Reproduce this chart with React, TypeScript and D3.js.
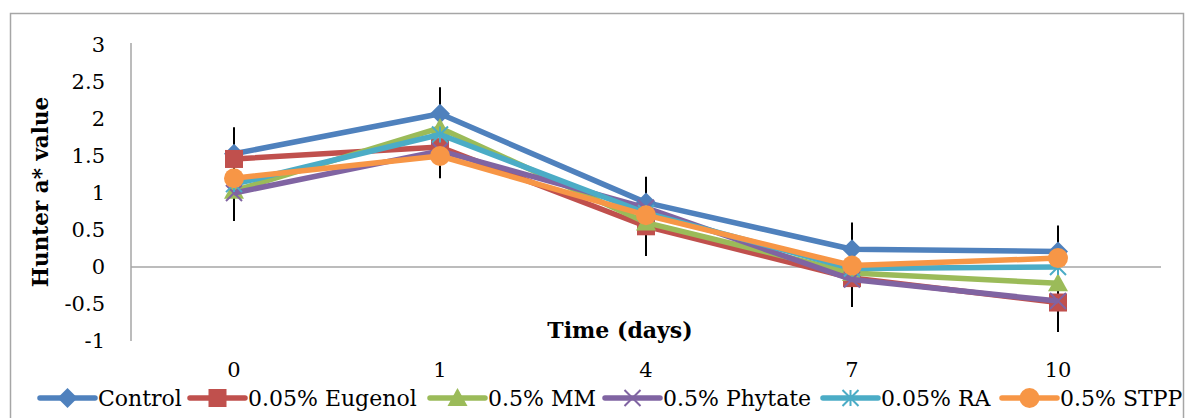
import React, { useRef, useEffect } from 'react';
import * as d3 from 'd3';

// days on the x axis
const days = ['0', '1', '4', '7', '10'];

const seriesNames = ['Control', '0.05% Eugenol', '0.5% MM', '0.5% Phytate', '0.05% RA', '0.5% STPP'];
const seriesColors = ['#4F81BD', '#C0504D', '#9BBB59', '#8064A2', '#4BACC6', '#F79646'];
const seriesMarkers = ['diamond', 'square', 'triangle', 'x', 'star', 'circle'];

const control = [1.53, 2.07, 0.87, 0.24, 0.21];
const eugenol = [1.46, 1.62, 0.55, -0.15, -0.48];
const mm = [1.03, 1.88, 0.6, -0.08, -0.22];
const phytate = [1.0, 1.57, 0.8, -0.17, -0.46];
const ra = [1.12, 1.79, 0.73, -0.02, 0.0];
const stpp = [1.2, 1.5, 0.7, 0.02, 0.12];

// standard deviations (error bars)
const controlErr = [0.36, 0.36, 0.35, 0.36, 0.35];
const eugenolErr = [0.3, 0.3, 0.4, 0.3, 0.4];
const mmErr = [0.3, 0.3, 0.3, 0.3, 0.3];
const phytateErr = [0.38, 0.3, 0.3, 0.37, 0.3];
const raErr = [0.3, 0.3, 0.3, 0.3, 0.3];
const stppErr = [0.3, 0.3, 0.3, 0.3, 0.3];

const yTicks = [3, 2.5, 2, 1.5, 1, 0.5, 0, -0.5, -1];

const allValues = [control, eugenol, mm, phytate, ra, stpp];
const allErrors = [controlErr, eugenolErr, mmErr, phytateErr, raErr, stppErr];

const App = () => {
  const svgRef = useRef<SVGSVGElement>(null);

  useEffect(() => {
    const svg = d3.select(svgRef.current);
    svg.selectAll('*').remove();
    const font = "'DejaVu Serif', serif";

    const margin = { top: 45, left: 131, right: 24, bottom: 77 };
    const width = 1185;

    const x = d3.scaleBand().domain(days).range([margin.left, width - margin.right]);
    const y = d3.scaleLinear().domain([-1, 3]).range([341, margin.top]);

    // outer chart border
    svg.append('rect')
      .attr('x', 10.5).attr('y', 13.5)
      .attr('width', 1173).attr('height', 430)
      .attr('fill', 'white').attr('stroke', '#a6a6a6').attr('stroke-width', 1.5);

    // y axis
    svg.append('line')
      .attr('x1', x.range()[0]).attr('x2', x.range()[0])
      .attr('y1', y(3) - 2).attr('y2', y(-1))
      .attr('stroke', '#a6a6a6').attr('stroke-width', 1.5);

    svg.append('g').selectAll('text').data(yTicks).join('text')
      .attr('x', 105).attr('y', d => y(d)).attr('dy', '0.35em')
      .attr('text-anchor', 'end')
      .style('font-family', font).style('font-size', '21px')
      .text(d => String(d));

    // zero line
    svg.append('line')
      .attr('x1', x.range()[0]).attr('x2', x.range()[1])
      .attr('y1', y(0)).attr('y2', y(0))
      .attr('stroke', '#a6a6a6').attr('stroke-width', 1.5);

    // x tick labels (low position)
    svg.append('g').selectAll('text').data(days).join('text')
      .attr('x', d => x(d)! + x.bandwidth() / 2).attr('y', 370).attr('dy', '0.35em')
      .attr('text-anchor', 'middle')
      .style('font-family', font).style('font-size', '21px')
      .text(d => d);

    // axis titles
    svg.append('text')
      .attr('x', 620).attr('y', 330).attr('dy', '0.35em')
      .attr('text-anchor', 'middle')
      .style('font-family', font).style('font-size', '22px').style('font-weight', 'bold')
      .text('Time (days)');

    svg.append('text')
      .attr('transform', `translate(40,192) rotate(-90)`)
      .attr('dy', '0.35em')
      .attr('text-anchor', 'middle')
      .style('font-family', font).style('font-size', '21.5px').style('font-weight', 'bold')
      .text('Hunter a* value');

    const cx = (i: number) => x(days[i])! + x.bandwidth() / 2;

    // error bars
    const eb = svg.append('g');
    allValues.forEach((vals, s) => {
      vals.forEach((v, i) => {
        eb.append('line')
          .attr('x1', cx(i)).attr('x2', cx(i))
          .attr('y1', y(v + allErrors[s][i])).attr('y2', y(v - allErrors[s][i]))
          .attr('stroke', 'black').attr('stroke-width', 2);
      });
    });

    const drawMarker = (g: any, type: string, px: number, py: number, color: string) => {
      if (type === 'diamond') {
        const r = 10;
        g.append('path')
          .attr('d', `M${px},${py - r}L${px + r},${py}L${px},${py + r}L${px - r},${py}Z`)
          .attr('fill', color);
      } else if (type === 'square') {
        const r = 9;
        g.append('rect').attr('x', px - r).attr('y', py - r)
          .attr('width', 2 * r).attr('height', 2 * r).attr('fill', color);
      } else if (type === 'triangle') {
        const r = 10;
        g.append('path')
          .attr('d', `M${px},${py - r}L${px + r},${py + r * 0.8}L${px - r},${py + r * 0.8}Z`)
          .attr('fill', color);
      } else if (type === 'x') {
        const r = 8;
        g.append('path')
          .attr('d', `M${px - r},${py - r}L${px + r},${py + r}M${px - r},${py + r}L${px + r},${py - r}`)
          .attr('stroke', color).attr('stroke-width', 2);
      } else if (type === 'star') {
        const r = 8;
        g.append('path')
          .attr('d', `M${px - r},${py - r}L${px + r},${py + r}M${px - r},${py + r}L${px + r},${py - r}M${px},${py - r}L${px},${py + r}`)
          .attr('stroke', color).attr('stroke-width', 2);
      } else {
        g.append('circle').attr('cx', px).attr('cy', py).attr('r', 10).attr('fill', color);
      }
    };

    const line = d3.line<number>()
      .x((d, i) => cx(i))
      .y(d => y(d));

    allValues.forEach((vals, s) => {
      const g = svg.append('g');
      g.append('path')
        .datum(vals)
        .attr('fill', 'none')
        .attr('stroke', seriesColors[s])
        .attr('stroke-width', 5.5)
        .attr('stroke-linejoin', 'round')
        .attr('d', line);
      vals.forEach((v, i) => drawMarker(g, seriesMarkers[s], cx(i), y(v), seriesColors[s]));
    });

    // legend
    const legendX = [40, 190, 430, 605, 823, 1002];
    const lg = svg.append('g');
    seriesNames.forEach((name, s) => {
      const lx = legendX[s];
      const ly = 398;
      lg.append('line')
        .attr('x1', lx).attr('x2', lx + 55)
        .attr('y1', ly).attr('y2', ly)
        .attr('stroke', seriesColors[s]).attr('stroke-width', 5.5)
        .attr('stroke-linecap', 'round');
      drawMarker(lg, seriesMarkers[s], lx + 27.5, ly, seriesColors[s]);
      lg.append('text')
        .attr('x', lx + 58).attr('y', ly).attr('dy', '0.35em')
        .style('font-family', font).style('font-size', '22px')
        .text(name);
    });
  }, []);

  return (
    <svg
      ref={svgRef}
      width={1185}
      height={418}
      style={{ position: 'absolute', left: 0, top: 0, background: 'white' }}
    />
  );
};

export default App;
